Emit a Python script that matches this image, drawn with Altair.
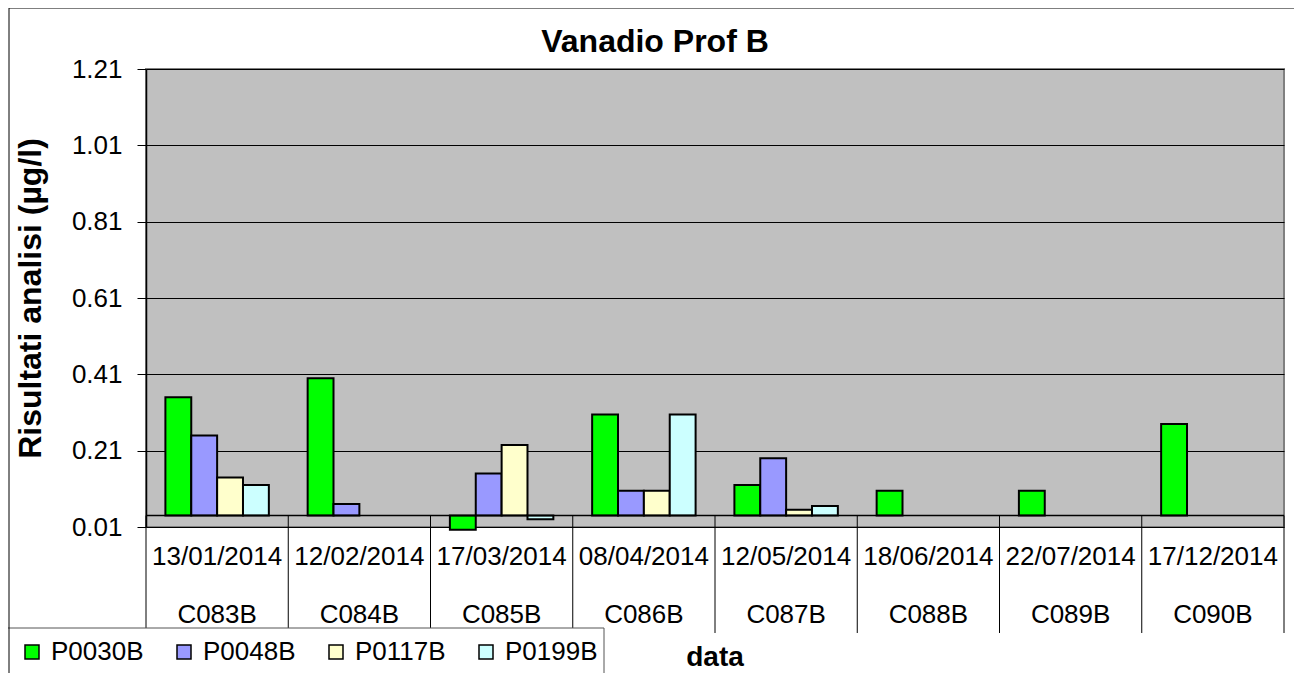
import altair as alt
import pandas as pd

# ---------------- data ----------------
dates = ["13/01/2014", "12/02/2014", "17/03/2014", "08/04/2014",
         "12/05/2014", "18/06/2014", "22/07/2014", "17/12/2014"]
codes = ["C083B", "C084B", "C085B", "C086B", "C087B", "C088B", "C089B", "C090B"]
series = ["P0030B", "P0048B", "P0117B", "P0199B"]
p0030b = [0.35, 0.40, 0.003, 0.305, 0.12, 0.105, 0.105, 0.28]
p0048b = [0.25, 0.07, 0.15, 0.105, 0.19, None, None, None]
p0117b = [0.14, None, 0.225, 0.105, 0.055, None, None, None]
p0199b = [0.12, None, 0.03, 0.305, 0.065, None, None, None]
colors = ["#00FF00", "#9999FF", "#FFFFCC", "#CCFFFF"]
y_ticks = [0.01, 0.21, 0.41, 0.61, 0.81, 1.01, 1.21]
y_domain = [0.01, 1.21]
crossing = 0.04  # value where the category axis crosses

title_text = "Vanadio Prof B"
y_title = "Risultati analisi (µg/l)"
x_title = "data"

rows = []
for name, vals in zip(series, [p0030b, p0048b, p0117b, p0199b]):
    for c, d, v in zip(codes, dates, vals):
        if v is not None:
            rows.append({"code": c, "date": d, "serie": name, "value": v})
df = pd.DataFrame(rows)
cat_df = pd.DataFrame({"code": codes, "date": dates})
last_df = cat_df.tail(1)
one = pd.DataFrame({"k": [0]})

W, H = 1138, 458
FONT = "Liberation Sans"

xscale = alt.Scale(domain=codes, paddingInner=0, paddingOuter=0)
yscale = alt.Scale(domain=y_domain, nice=False, zero=False)

bars = alt.Chart(df).mark_bar(stroke="black", strokeWidth=2).encode(
    x=alt.X("code:N", scale=xscale, axis=None, sort=codes),
    xOffset=alt.XOffset("serie:N", scale=alt.Scale(domain=series, paddingInner=0, paddingOuter=0.75)),
    y=alt.Y("value:Q", scale=yscale, title=y_title,
            axis=alt.Axis(values=y_ticks, format=".2f", grid=True, gridColor="black",
                          gridWidth=1, domainColor="black", domainWidth=1.5,
                          tickColor="black", tickSize=9, tickWidth=1,
                          labelFontSize=26, labelColor="black", labelPadding=15,
                          titleFontSize=32, titleFontWeight="bold", titleColor="black",
                          titlePadding=24)),
    y2=alt.datum(crossing),
    color=alt.Color("serie:N", scale=alt.Scale(domain=series, range=colors),
                    legend=alt.Legend(title=None, orient="none", direction="horizontal",
                                      legendX=-127, legendY=570, padding=0,
                                      symbolType="square", symbolSize=196,
                                      symbolStrokeColor="black", symbolStrokeWidth=1.5,
                                      symbolOpacity=1, labelFontSize=26, labelColor="black",
                                      labelOffset=6, columnPadding=27, zindex=2)),
)

cross_rule = alt.Chart(one).mark_rule(color="black", strokeWidth=1.5).encode(
    y=alt.datum(crossing)
)

seps = alt.Chart(cat_df).mark_rule(color="black", strokeWidth=1).encode(
    x=alt.X("code:N", scale=xscale, axis=None, bandPosition=0),
    y=alt.datum(crossing),
    y2=alt.value(564),
)
sep_last = alt.Chart(last_df).mark_rule(color="black", strokeWidth=1).encode(
    x=alt.X("code:N", scale=xscale, axis=None, bandPosition=1),
    y=alt.datum(crossing),
    y2=alt.value(564),
)

date_text = alt.Chart(cat_df).mark_text(fontSize=26, baseline="alphabetic", color="black").encode(
    x=alt.X("code:N", scale=xscale, axis=None),
    y=alt.value(496),
    text="date:N",
)
code_text = alt.Chart(cat_df).mark_text(fontSize=26, baseline="alphabetic", color="black").encode(
    x=alt.X("code:N", scale=xscale, axis=None),
    y=alt.value(554),
    text="code:N",
)

legend_box = alt.Chart(one).mark_rect(fill="white", stroke="#555555", strokeWidth=1).encode(
    x=alt.value(-140), x2=alt.value(458), y=alt.value(559), y2=alt.value(700)
)

outer_box = alt.Chart(one).mark_rect(fillOpacity=0, stroke="black", strokeWidth=1).encode(
    x=alt.value(-137), x2=alt.value(1300), y=alt.value(-61), y2=alt.value(700)
)

xtitle = alt.Chart(one).mark_text(fontSize=28, fontWeight="bold", baseline="alphabetic",
                                   color="black").encode(
    x=alt.value(W / 2), y=alt.value(597), text=alt.value(x_title)
)

title = alt.Chart(one).mark_text(fontSize=32, fontWeight="bold", baseline="alphabetic",
                                  color="black").encode(
    x=alt.value(509), y=alt.value(-17), text=alt.value(title_text)
)

chart = alt.layer(
    bars, cross_rule, seps, sep_last, date_text, code_text, legend_box, outer_box,
    xtitle, title
).properties(
    width=W, height=H,
    autosize=alt.AutoSizeParams(type="none"),
    padding={"left": 138, "top": 61, "right": 10, "bottom": 146},
).configure(font=FONT).configure_view(
    fill="#C0C0C0", stroke="#808080", strokeWidth=2
)

chart.save("out.html", embed_options={"renderer": "svg", "actions": False})
